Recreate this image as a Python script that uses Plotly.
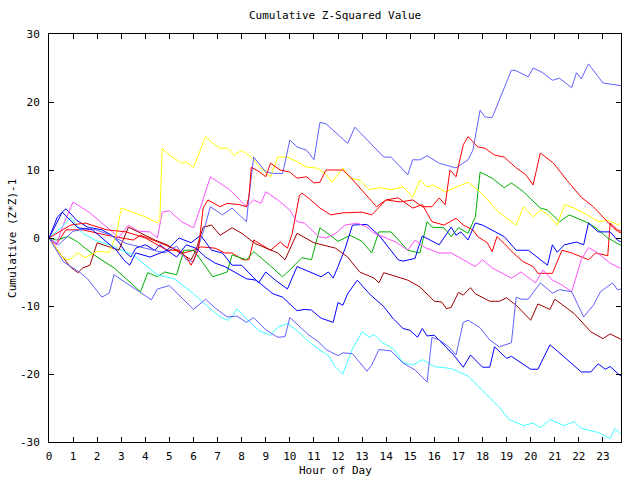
import plotly.graph_objects as go

# ---- data: (hour, cumulative value) vertices for each series ----
slateA_h = [0,0.4,1.0,1.7,2.5,3.2,4.0,4.8,5.3,5.7,6.0,6.3,6.5,6.7,7.2,7.6,8.2,8.3,8.5,9.0,9.3,9.7,10.0,10.3,10.7,11.0,11.25,11.5,12.4,12.7,13.9,14.2,14.9,15.1,15.4,15.7,16.2,16.9,17.4,17.6,17.9,18.1,18.4,18.7,19.2,19.4,19.9,20.1,20.5,20.9,21.2,21.7,21.9,22.1,22.4,23.0,23.6,23.75]
slateA_v = [0,-1.0,1.0,1.5,0.5,-0.8,-1.5,-2.2,-1.2,-3.2,-3.5,-0.3,2.0,4.6,3.4,4.4,2.4,6.0,11.9,9.7,9.5,9.5,14.4,13.4,12.9,11.5,17.0,16.8,13.9,16.3,11.9,11.9,9.3,11.5,11.5,12.1,11.0,10.3,11.5,12.9,18.8,17.8,17.7,20.3,24.7,24.6,23.7,25.0,24.3,23.2,23.5,22.1,24.3,23.4,25.6,22.8,22.5,22.4]

slateB_h = [0,0.6,1.3,1.6,2.2,2.5,2.7,3.35,4.25,4.5,5.0,6.0,6.5,6.9,7.4,7.8,8.2,8.5,9.0,9.5,9.8,10.0,10.8,11.2,11.5,12.0,12.2,12.6,13.2,13.4,13.7,14.2,14.7,15.2,15.7,15.9,16.2,16.6,16.9,17.2,17.4,17.9,18.3,18.7,19.2,19.4,19.6,19.9,20.4,20.9,21.2,21.7,22.2,22.6,22.9,23.4,23.6,23.75]
slateB_v = [0,-3.5,-5.1,-6.0,-8.7,-8.1,-5.4,-6.9,-9.1,-7.5,-7.0,-10.5,-9.0,-10.3,-11.6,-11.5,-12.4,-11.7,-13.5,-14.6,-14.5,-11.7,-14.3,-15.3,-16.4,-17.3,-16.9,-17.0,-19.6,-18.7,-16.4,-16.6,-18.4,-19.4,-21.2,-14.6,-15.0,-16.0,-17.2,-12.4,-12.1,-13.2,-15.0,-16.0,-15.4,-8.7,-9.0,-9.0,-6.6,-8.1,-7.6,-7.9,-11.6,-9.9,-7.9,-6.6,-7.6,-7.5]

yellow_h = [0,0.6,0.85,1.2,1.5,2.0,2.5,2.8,3.0,3.5,4.0,4.5,4.6,4.7,5.0,5.5,5.7,6.0,6.5,6.75,7.1,7.4,7.7,8.0,8.4,8.75,9.2,9.5,9.9,10.3,10.7,11.1,11.4,11.75,12.2,12.5,12.9,13.3,13.7,14.2,14.7,15.1,15.4,15.7,15.95,16.45,16.9,17.4,17.9,18.7,19.4,19.7,20.1,20.4,20.7,21.1,21.4,21.8,22.35,22.8,23.2,23.65,23.75]
yellow_v = [0,-3.0,-3.2,-2.2,-2.9,-2.0,-2.1,0.5,4.4,3.7,3.1,2.2,2.5,13.2,12.2,11.0,11.2,10.4,14.9,14.1,13.2,13.2,12.2,12.9,11.9,10.4,9.0,11.9,11.9,11.2,10.4,10.3,9.7,8.2,10.3,8.8,8.5,7.1,7.4,7.1,7.5,6.0,8.5,7.5,7.8,6.8,7.5,8.2,6.8,3.7,1.9,4.6,3.1,4.1,3.5,1.9,4.9,4.4,3.4,2.4,2.6,1.9,2.2]

redB_h = [0,0.5,0.9,1.5,2.4,3.2,4.0,4.9,5.4,5.7,5.9,6.2,6.4,6.6,7.1,7.4,7.9,8.2,8.3,8.4,8.75,9.0,9.2,9.6,10.0,10.3,10.7,11.0,11.25,11.5,12.2,12.5,13.6,14.0,14.6,15.1,15.5,15.9,16.2,16.45,16.65,16.9,17.2,17.4,17.8,18.1,18.5,18.9,19.4,19.8,20.1,20.4,20.95,21.5,22.1,22.6,23.0,23.4,23.65,23.75]
redB_v = [0,1.0,1.9,2.2,1.2,0.9,0,-1.8,-1.8,-2.8,-4.0,-1.8,4.4,5.6,4.6,5.1,4.9,4.6,6.0,10.4,9.7,9.0,11.0,10.0,9.7,8.8,9.0,8.1,8.2,10.0,10.0,9.0,4.6,5.6,5.3,5.6,4.6,4.6,5.9,4.9,10.0,9.0,13.7,14.9,13.4,13.2,12.2,11.9,10.3,9.3,7.8,12.5,11.0,8.5,6.0,4.6,3.1,1.6,0.9,0.8]

redA_h = [0,0.3,0.7,1.4,2.4,3.5,3.8,4.6,5.6,6.0,6.3,6.9,7.3,7.6,8.05,8.3,8.5,9.2,9.6,9.9,10.1,10.4,10.5,10.8,11.25,11.7,12.2,12.5,13.0,13.4,13.75,14.0,14.5,15.1,15.5,15.9,16.4,16.9,17.2,17.6,17.8,18.2,18.4,18.6,18.9,19.3,19.7,20.1,20.3,20.9,21.3,21.7,22.2,22.4,22.7,23.2,23.3,23.6,23.75]
redA_v = [0,-1.0,1.2,1.2,0.4,-0.3,0.4,-0.7,-2.2,-1.8,-1.3,-1.5,-2.2,-2.2,-3.2,-3.2,-0.3,-1.8,-0.6,-1.5,0.7,6.3,6.6,5.8,4.4,3.4,3.7,3.7,3.8,3.4,4.6,5.6,5.9,4.4,4.9,2.4,1.9,2.9,1.9,1.2,0.2,-0.7,-2.0,0.2,-0.8,-2.3,-3.5,-4.2,-5.2,-5.2,-1.8,-2.2,-2.9,-3.2,-2.2,-2.6,2.2,1.2,1.0]

green_h = [0,0.3,0.8,1.2,1.5,2.0,2.7,3.1,3.8,4.1,4.5,4.8,5.3,5.6,6.0,6.4,6.8,7.4,7.6,8.2,8.5,9.0,9.7,10.0,10.2,10.5,10.9,11.25,11.75,12.0,12.5,13.0,13.4,13.7,14.2,14.9,15.4,15.7,15.9,16.4,16.7,17.0,17.4,17.7,17.9,18.4,18.9,19.2,19.7,20.4,20.7,21.2,21.6,22.4,22.7,23.2,23.75]
green_v = [0,-0.3,0.2,-0.6,-1.5,-2.8,-4.4,-5.7,-7.9,-5.1,-5.7,-5.0,-5.4,-1.8,-1.8,-3.7,-5.7,-5.0,-2.5,-3.2,-2.0,-3.5,-5.7,-4.7,-4.0,-2.9,-3.2,1.5,0.2,-0.5,0.4,-0.5,-2.2,0.9,0.9,-1.8,-2.2,2.4,1.6,1.5,0.2,1.5,0.7,3.1,9.7,8.8,7.4,8.1,6.8,4.4,4.1,2.4,3.4,2.2,1.5,0.0,-1.1]

blueX_h = [0,0.35,0.7,1.15,1.6,2.2,2.6,2.9,3.2,3.4,3.6,4.0,4.4,4.6,4.9,5.4,5.9,6.3,6.75,7.2,7.6,8.0,8.7,9.0,9.4,9.9,10.3,11.0,11.3,11.6,11.8,12.0,12.3,12.6,13.2,13.7,14.5,14.7,15.2,15.3,15.5,16.2,16.7,16.9,17.1,17.4,17.7,18.0,18.5,18.9,19.4,19.9,20.7,20.9,21.1,21.4,21.9,22.2,22.4,22.8,23.3,23.6,23.75]
blueX_v = [0,3.1,4.3,2.6,1.6,1.2,0.4,-0.6,-2.2,-2.8,-1.5,-1.0,-1.8,-1.0,-1.8,0,-0.7,0.4,-1.8,-2.2,-4.0,-4.0,-6.6,-5.0,-6.2,-7.5,-4.2,-5.2,-5.7,-5.0,-5.9,-4.2,-1.5,1.9,2.0,0.4,-3.2,-3.4,-3.0,-1.8,0.3,-1.0,1.6,0.4,0.9,-0.3,2.2,1.9,0.9,0.2,-1.8,-1.8,-4.0,-1.0,-2.1,-1.0,-0.6,-1.0,2.2,0.9,0.9,-0.3,-0.6]

blueY_h = [0,0.55,1.2,1.8,2.4,2.8,3.1,3.35,3.6,4.2,4.9,5.3,5.7,6.1,6.5,6.9,7.3,7.7,8.2,8.6,8.9,9.3,9.7,10.0,10.3,10.6,10.9,11.3,11.6,11.8,12.0,12.2,12.4,12.8,13.3,13.9,14.3,14.7,15.0,15.3,15.5,15.7,16.0,16.5,16.8,17.2,17.5,18.0,18.3,18.5,19.0,19.2,19.6,20.0,20.3,20.8,21.1,21.5,22.1,22.5,22.8,23.1,23.3,23.7,23.75]
blueY_v = [0,3.8,1.5,1.2,-0.6,-1.8,-3.2,-4.0,-2.2,-2.8,-1.8,-2.8,-1.0,-1.5,-2.8,-3.7,-4.2,-5.0,-6.0,-6.2,-7.0,-8.2,-8.7,-9.7,-10.7,-10.5,-10.6,-11.8,-12.1,-12.4,-9.5,-9.9,-8.2,-6.2,-8.2,-10.1,-11.9,-13.3,-13.6,-14.6,-13.3,-14.4,-14.3,-16.1,-17.2,-19.0,-17.2,-19.0,-19.0,-16.0,-17.7,-17.4,-18.3,-19.3,-19.3,-15.7,-16.6,-17.8,-19.7,-19.7,-18.5,-19.3,-18.9,-20.2,-20.2]

cyan_h = [0,0.5,0.9,1.4,1.9,2.5,3.0,3.5,4.0,4.5,5.2,6.0,6.6,7.1,7.4,7.6,7.8,8.2,8.7,9.2,9.5,9.9,10.3,10.9,11.6,11.9,12.2,12.6,13.0,13.3,13.5,13.8,14.3,14.7,15.1,15.5,16.0,16.7,17.4,18.1,18.7,19.1,19.7,20.1,20.4,20.8,21.4,21.8,22.1,22.8,23.3,23.5,23.75]
cyan_v = [0,1.5,3.0,0.7,-0.3,-1.0,-1.8,-2.5,-4.0,-5.4,-6.0,-8.2,-10.1,-11.6,-12.1,-11.6,-10.4,-11.9,-13.6,-14.3,-13.1,-12.6,-13.6,-15.6,-17.3,-19.0,-20.0,-16.3,-13.8,-14.6,-14.2,-15.3,-16.3,-18.3,-18.7,-17.9,-18.9,-19.2,-20.3,-22.7,-24.9,-26.7,-27.6,-27.2,-27.9,-26.7,-27.6,-27.0,-28.0,-28.6,-29.5,-28.0,-28.9]

magenta_h = [0,0.3,0.6,1.0,1.7,2.4,2.9,3.3,3.7,4.2,4.5,4.7,5.0,5.5,6.0,6.3,6.7,7.5,8.2,8.5,8.8,9.0,9.5,10.0,10.3,10.6,11.2,11.5,11.9,12.3,12.8,13.2,13.5,14.0,14.4,14.9,15.2,15.6,16.2,16.7,17.0,17.7,18.0,18.4,19.2,19.6,20.2,20.5,20.9,21.3,21.7,22.1,22.4,22.7,23.3,23.75]
magenta_v = [0,-1.0,2.0,5.3,3.7,1.6,0.1,1.9,1.0,0.9,0,3.8,4.0,2.4,1.5,4.6,9.0,7.1,4.6,5.6,5.1,6.8,5.6,4.1,2.4,2.2,0.2,0,0.7,1.9,2.2,1.6,0.7,0,-0.6,-1.8,-0.3,-1.4,-2.2,-2.2,-2.8,-4.2,-3.2,-4.4,-5.9,-5.0,-6.6,-4.7,-6.2,-6.9,-7.9,-3.2,-1.4,-2.0,-3.7,-4.5]

darkred_h = [0,0.5,0.9,1.2,1.4,1.7,1.9,2.0,2.5,2.9,3.3,3.8,4.4,4.9,5.7,5.9,6.1,6.4,6.75,7.1,7.6,8.0,8.55,9.0,9.5,9.8,10.3,11.0,11.9,12.4,12.9,13.5,13.7,13.9,14.6,14.9,15.4,16.0,16.3,16.5,16.7,17.0,17.2,17.5,17.7,18.3,18.7,19.0,19.4,20.0,20.3,20.8,21.0,21.5,21.8,22.5,23.0,23.3,23.75]
darkred_v = [0,-2.5,-4.3,-5.1,-4.4,-4.0,-1.8,-0.7,-1.3,-1.8,1.6,0.7,-0.3,-1.0,-2.8,-3.2,-1.8,1.6,1.9,0.4,1.5,0.7,-0.8,-1.5,-2.2,-3.2,0.7,-0.7,-1.5,-2.8,-5.0,-5.9,-6.6,-5.1,-5.9,-6.2,-7.2,-9.3,-9.4,-10.4,-10.2,-8.0,-8.4,-7.3,-8.2,-9.3,-9.3,-8.8,-9.9,-12.1,-9.7,-10.5,-9.0,-10.3,-11.1,-13.8,-14.8,-14.1,-14.9]

x_ticks = list(range(0, 24))
y_ticks = [-30, -20, -10, 0, 10, 20, 30]

series = [
    (redA_h, redA_v, "#ff0000"),
    (green_h, green_v, "#00b000"),
    (blueX_h, blueX_v, "#0000ff"),
    (magenta_h, magenta_v, "#ff50ff"),
    (cyan_h, cyan_v, "#40ffff"),
    (darkred_h, darkred_v, "#a00000"),
    (yellow_h, yellow_v, "#ffff00"),
    (slateA_h, slateA_v, "#6060ff"),
    (redB_h, redB_v, "#ff0000"),
    (blueY_h, blueY_v, "#0000ff"),
    (slateB_h, slateB_v, "#6060ff"),
]

fig = go.Figure()
for h, v, c in series:
    fig.add_trace(go.Scatter(x=h, y=v, mode="lines",
                             line=dict(color=c, width=1), showlegend=False))

FONT = "DejaVu Sans Mono, Liberation Mono, monospace"
axis_common = dict(showline=True, linecolor="black", linewidth=1, mirror="ticks",
                   ticks="inside", ticklen=5, tickcolor="black", tickwidth=1,
                   showgrid=False, zeroline=False,
                   tickfont=dict(family=FONT, size=11, color="black"))

fig.update_layout(
    width=640, height=480,
    margin=dict(l=49, r=19, t=34, b=38),
    paper_bgcolor="white", plot_bgcolor="white",
    font=dict(family=FONT, size=11, color="black"),
    xaxis=dict(range=[0, 23.75], tickvals=x_ticks, ticktext=[str(t) for t in x_ticks],
               ticklabelstandoff=4, **axis_common),
    yaxis=dict(range=[-30, 30], tickvals=y_ticks, ticktext=[str(t) for t in y_ticks],
               ticklabelstandoff=6, **axis_common),
    annotations=[
        dict(text="Cumulative Z-Squared Value", xref="paper", yref="paper",
             x=0.5, y=(442 - 16) / 408, xanchor="center", yanchor="middle",
             showarrow=False, font=dict(family=FONT, size=11)),
        dict(text="Hour of Day", xref="paper", yref="paper",
             x=0.5, y=-(470 - 442) / 408, xanchor="center", yanchor="middle",
             showarrow=False, font=dict(family=FONT, size=11)),
        dict(text="Cumulative (Z*Z)-1", xref="paper", yref="paper",
             x=(12 - 49) / 571, y=0.5, xanchor="center", yanchor="middle",
             textangle=-90, showarrow=False, font=dict(family=FONT, size=11)),
    ],
)

fig.write_html("out.html")
